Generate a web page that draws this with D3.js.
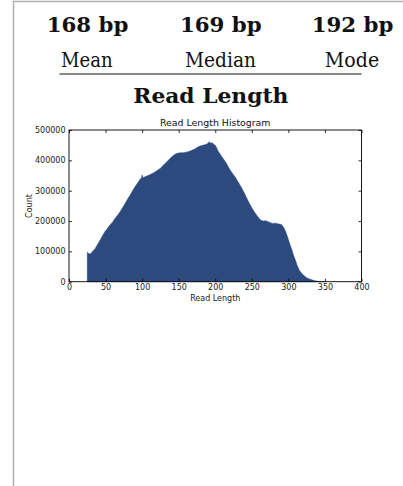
<!DOCTYPE html>
<html>
<head>
<meta charset="utf-8">
<script src="https://cdn.jsdelivr.net/npm/d3@7"></script>
<style>
  body { margin: 0; background: #ffffff; }
  svg { display: block; }
</style>
</head>
<body>
<div id="chart"></div>
<script>
// summary numbers shown above the plot
var statValues = ["168 bp", "169 bp", "192 bp"];
var statLabels = ["Mean", "Median", "Mode"];

// histogram, read length (bp) -> count
var readLengths = [25, 27, 29, 32, 36, 40, 43, 46, 49, 53, 56, 60, 63, 67, 70, 74, 77, 80, 84, 87,
  90, 94, 97, 99, 100, 101, 104, 108, 111, 115, 118, 121, 125, 128, 131, 135, 138, 141, 145, 148,
  152, 156, 160, 164, 168, 172, 175, 179, 182, 185, 188, 190, 192, 194, 196, 198, 200, 202, 204, 206,
  209, 212, 215, 218, 221, 224, 227, 230, 233, 236, 239, 242, 245, 248, 251, 254, 257, 260, 263, 266,
  269, 272, 275, 278, 281, 284, 287, 290, 292, 294, 296, 298, 300, 302, 305, 307, 310, 312, 315, 318,
  321, 324, 327, 330, 333, 336, 339, 342, 345, 348, 350];
var readCounts = [97000, 93000, 91000, 99000, 110000, 127000, 139000, 152000, 165000, 177000, 187000, 198000, 209000, 221000, 231000, 247000, 259000, 272000, 287000, 300000,
  312000, 326000, 337000, 342000, 352000, 343000, 346000, 350000, 353000, 358000, 362000, 367000, 374000, 381000, 389000, 398000, 406000, 413000, 420000, 423000,
  425000, 425000, 427000, 429000, 433000, 437000, 442000, 447000, 449000, 451000, 453000, 456000, 461000, 456000, 458000, 452000, 450000, 441000, 430000, 423000,
  412000, 402000, 391000, 378000, 366000, 355000, 346000, 334000, 322000, 310000, 296000, 281000, 266000, 253000, 240000, 228000, 218000, 208000, 202000, 200000,
  201000, 198000, 195000, 192000, 193000, 192000, 190000, 189000, 184000, 177000, 167000, 154000, 139000, 124000, 104000, 88000, 68000, 54000, 38000, 28000,
  21000, 15000, 10500, 7800, 5500, 3500, 2000, 1000, 400, 150, 0];

var xTicks = [0, 50, 100, 150, 200, 250, 300, 350, 400];
var yTicks = [0, 100000, 200000, 300000, 400000, 500000];

var width = 403, height = 486;
var sans = "DejaVu Sans, sans-serif";
var serif = "DejaVu Serif, serif";

var svg = d3.select("#chart").append("svg")
  .attr("width", width)
  .attr("height", height)

// page frame, left and top edges only
svg.append("line").attr("x1", 13.5).attr("x2", 13.5).attr("y1", 1).attr("y2", height)
  .attr("stroke", "#b0b0b0").attr("stroke-width", 1.5)
svg.append("line").attr("x1", 13).attr("x2", width).attr("y1", 1.5).attr("y2", 1.5)
  .attr("stroke", "#b0b0b0").attr("stroke-width", 1.5)

// header stats
var colX = [87.5, 220.8, 352.5];
var labelX = [86.8, 220.5, 352];
var labelWidths = [51.7, 71, 54.3];
statValues.forEach(function (v, i) {
  svg.append("text")
    .attr("x", colX[i]).attr("y", 31.7)
    .attr("text-anchor", "middle")
    .attr("font-family", serif).attr("font-weight", "bold").attr("font-size", 20.5)
    .attr("textLength", 81.7).attr("lengthAdjust", "spacingAndGlyphs")
    .attr("fill", "#111")
    .text(v)
  svg.append("text")
    .attr("x", labelX[i]).attr("y", 66.5)
    .attr("text-anchor", "middle")
    .attr("font-family", serif).attr("font-size", 19.5)
    .attr("textLength", labelWidths[i]).attr("lengthAdjust", "spacingAndGlyphs")
    .attr("fill", "#111")
    .text(statLabels[i])
})

svg.append("line").attr("x1", 59.5).attr("x2", 361.5).attr("y1", 74).attr("y2", 74)
  .attr("stroke", "#111").attr("stroke-width", 1.2)

svg.append("text")
  .attr("x", 210.8).attr("y", 103.3)
  .attr("text-anchor", "middle")
  .attr("font-family", serif).attr("font-weight", "bold").attr("font-size", 21)
  .attr("textLength", 155).attr("lengthAdjust", "spacingAndGlyphs")
  .attr("fill", "#111")
  .text("Read Length")

// plot area
var plot = { left: 69, right: 361.5, top: 130, bottom: 281.7 };

var x = d3.scaleLinear().domain([0, 400]).range([plot.left, plot.right]);
var y = d3.scaleLinear().domain([0, 500000]).range([plot.bottom, plot.top]);

var hist = d3.range(readLengths.length).map(function (i) {
  return { len: readLengths[i], count: readCounts[i] };
});

var area = d3.area()
  .x(function (d) { return x(d.len); })
  .y0(y(0))
  .y1(function (d) { return y(d.count); });

svg.append("path")
  .datum(hist)
  .attr("d", area)
  .attr("fill", "#2d4a7e")
  .attr("stroke", "#2d4a7e")
  .attr("stroke-width", 0.5)

// axes, matplotlib classic style: ticks inward on all sides
var tickLen = 3;
var axisBottom = svg.append("g").attr("transform", "translate(0," + plot.bottom + ")")
  .call(d3.axisBottom(x).tickValues(xTicks).tickSizeInner(-tickLen).tickSizeOuter(0).tickPadding(3))
var axisTop = svg.append("g").attr("transform", "translate(0," + plot.top + ")")
  .call(d3.axisTop(x).tickValues(xTicks).tickSizeInner(-tickLen).tickSizeOuter(0).tickFormat(""))
var axisLeft = svg.append("g").attr("transform", "translate(" + plot.left + ",0)")
  .call(d3.axisLeft(y).tickValues(yTicks).tickSizeInner(-tickLen).tickSizeOuter(0).tickPadding(3.5).tickFormat(d3.format("d")))
var axisRight = svg.append("g").attr("transform", "translate(" + plot.right + ",0)")
  .call(d3.axisRight(y).tickValues(yTicks).tickSizeInner(-tickLen).tickSizeOuter(0).tickFormat(""))

;[axisBottom, axisTop, axisLeft, axisRight].forEach(function (g) {
  g.select(".domain").remove()
  g.selectAll(".tick line").attr("stroke", "#000").attr("stroke-width", 0.8)
  g.selectAll("text").attr("font-family", sans).attr("font-size", 8).attr("fill", "#222")
})

svg.append("rect")
  .attr("x", plot.left).attr("y", plot.top)
  .attr("width", plot.right - plot.left).attr("height", plot.bottom - plot.top)
  .attr("fill", "none").attr("stroke", "#000").attr("stroke-width", 0.9)

svg.append("text")
  .attr("x", (plot.left + plot.right) / 2).attr("y", 126)
  .attr("text-anchor", "middle")
  .attr("font-family", sans).attr("font-size", 9.4).attr("fill", "#111")
  .text("Read Length Histogram")

svg.append("text")
  .attr("x", (plot.left + plot.right) / 2).attr("y", 300.5)
  .attr("text-anchor", "middle")
  .attr("font-family", sans).attr("font-size", 8).attr("fill", "#222")
  .text("Read Length")

svg.append("text")
  .attr("transform", "translate(32,206) rotate(-90)")
  .attr("text-anchor", "middle")
  .attr("font-family", sans).attr("font-size", 8).attr("fill", "#222")
  .text("Count")
</script>
</body>
</html>
